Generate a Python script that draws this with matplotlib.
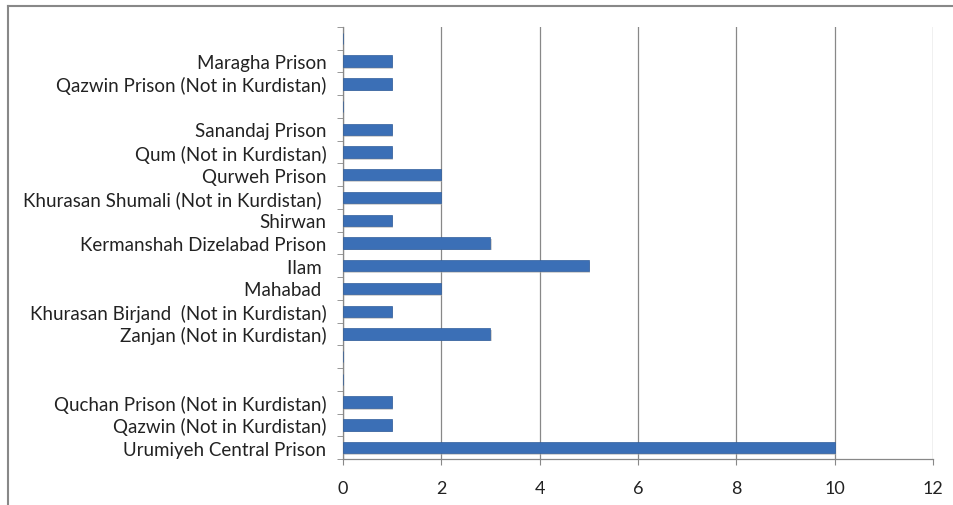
import matplotlib
matplotlib.use("Agg")
import matplotlib.pyplot as plt
import numpy as np
from matplotlib.lines import Line2D
import matplotlib.patheffects as pe

categories = [
    "Urumiyeh Central Prison",
    "Qazwin (Not in Kurdistan)",
    "Quchan Prison (Not in Kurdistan)",
    "",
    "",
    "Zanjan (Not in Kurdistan)",
    "Khurasan Birjand  (Not in Kurdistan)",
    "Mahabad ",
    "Ilam ",
    "Kermanshah Dizelabad Prison",
    "Shirwan",
    "Khurasan Shumali (Not in Kurdistan) ",
    "Qurweh Prison",
    "Qum (Not in Kurdistan)",
    "Sanandaj Prison",
    "",
    "Qazwin Prison (Not in Kurdistan)",
    "Maragha Prison",
    "",
]
values = [10, 1, 1, 0, 0, 3, 1, 2, 5, 3, 1, 2, 2, 1, 1, 0, 1, 1, 0]
xticks = [0, 2, 4, 6, 8, 10, 12]

plt.rcParams['font.family'] = ['Lato', 'DejaVu Sans']

fig = plt.figure(figsize=(9.54, 5.06), dpi=100)
ax = fig.add_axes([343/954, 1-460/506, (933-343)/954, (460-28)/506])

n = len(categories)
pos = np.arange(n)
bars = ax.barh(pos, values, height=0.5, color="#3b6fb6", edgecolor="#2f5d9c",
               linewidth=0.5, zorder=3)
for b in bars:
    b.set_path_effects([pe.SimplePatchShadow(offset=(0.8, -1.3), shadow_rgbFace="#aaaaaa", alpha=0.5), pe.Normal()])

ax.set_ylim(-0.5, n - 0.5)
ax.set_xlim(0, 12)
ax.set_xticks(xticks)
ax.set_xticklabels([str(t) for t in xticks], fontsize=13, color="#222222")
ax.set_yticks(pos)
ax.set_yticklabels(categories, fontsize=13.5, color="#222222")
ax.set_yticks(np.arange(-0.5, n, 1.0), minor=True)
ax.tick_params(axis='y', which='major', length=0, pad=12)
ax.tick_params(axis='y', which='minor', length=4, color="#888888", direction='out')
ax.tick_params(axis='x', which='major', length=4, color="#888888", direction='out', pad=11)

ax.grid(axis='x', color="#888888", linewidth=0.9, zorder=0)
ax.set_axisbelow(True)
for s in ["top", "right"]:
    ax.spines[s].set_visible(False)
for s in ["left", "bottom"]:
    ax.spines[s].set_color("#888888")
    ax.spines[s].set_linewidth(0.9)

# chart area border (top and left visible)
fig.add_artist(Line2D([8/954, 8/954], [0, 1-7/506], transform=fig.transFigure, color="#888888", linewidth=1.5))
fig.add_artist(Line2D([8/954, 1], [1-7/506, 1-7/506], transform=fig.transFigure, color="#888888", linewidth=1.5))

fig.savefig("out.png", dpi=100)
